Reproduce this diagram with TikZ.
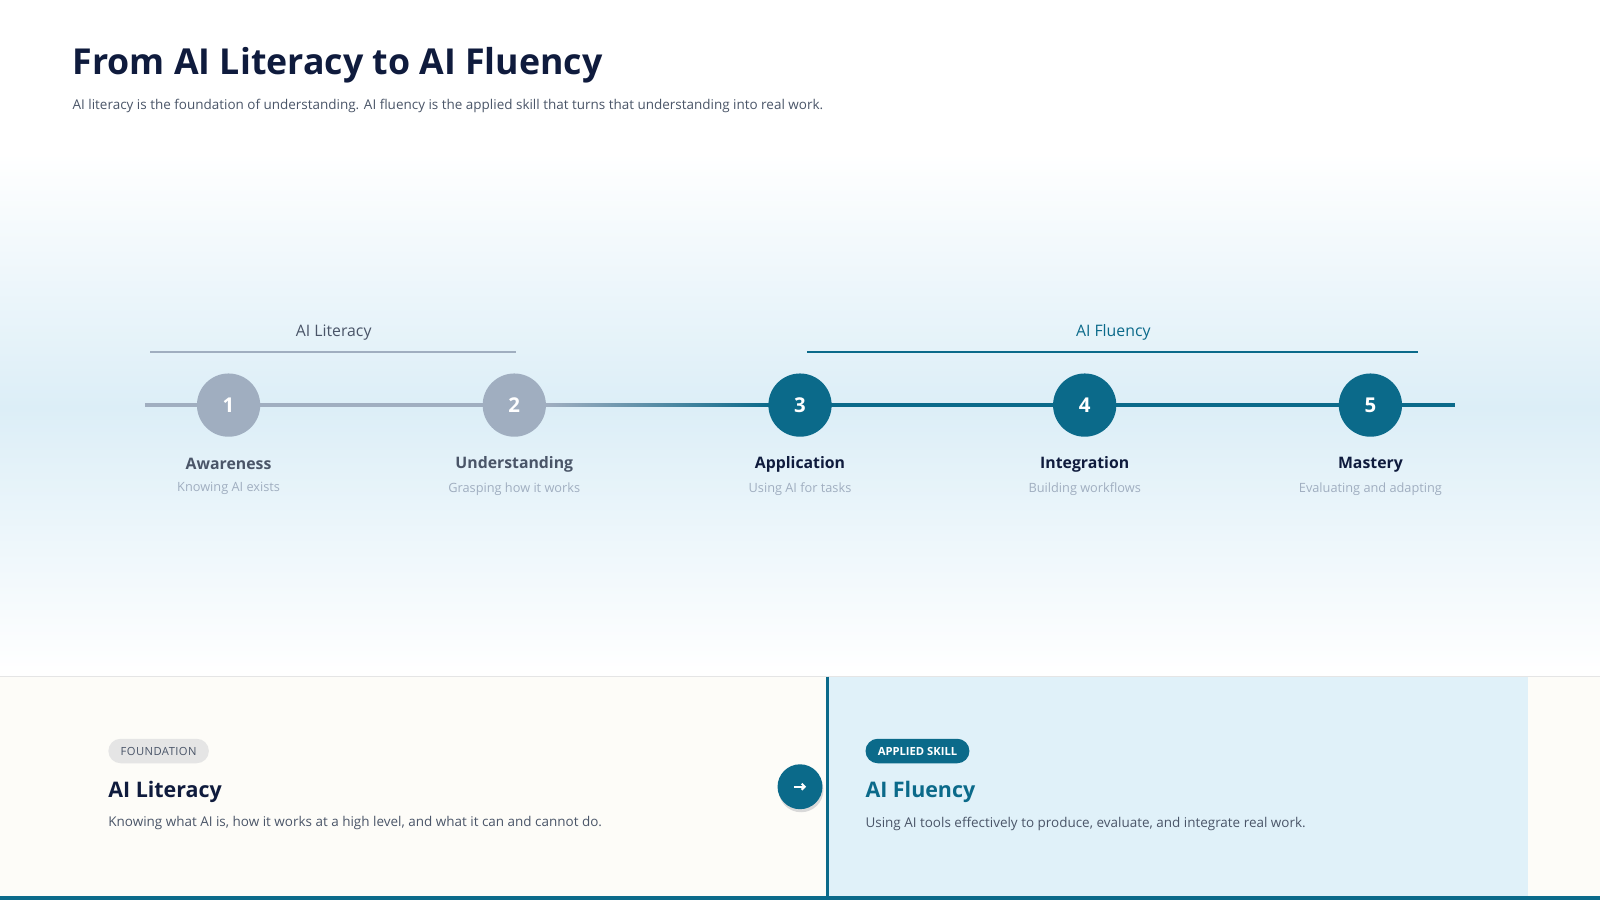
\documentclass[tikz,border=0pt]{standalone}
\usepackage{fontspec}
\setmainfont{Open Sans}
\usetikzlibrary{shadings,arrows.meta}
\definecolor{navy}{HTML}{0F1B3D}
\definecolor{teal}{HTML}{0B6A8A}
\definecolor{gry}{HTML}{A0AEC0}
\definecolor{band}{HTML}{DCEEF7}
\definecolor{cream}{HTML}{FDFCF8}
\definecolor{lblue}{HTML}{E0F1F9}
\definecolor{txt}{HTML}{4A5568}
\definecolor{sub}{HTML}{A0AEC0}
\begin{document}
\begin{tikzpicture}[x=1pt,y=-1pt,
  stepdot/.style={circle,minimum size=62pt,inner sep=0pt,text=white,font=\fontsize{20}{24}\selectfont\bfseries},
  steptitle/.style={font=\fontsize{15.5}{19}\selectfont\bfseries},
  stepsub/.style={font=\fontsize{12.5}{16}\selectfont,text=sub},
  pill/.style={rounded corners=12pt,minimum height=24pt,inner xsep=12pt,font=\fontsize{11}{14}\selectfont\addfontfeatures{LetterSpace=4}}]
\useasboundingbox (0,0) rectangle (1568,882);
\fill[white] (0,0) rectangle (1568,882);
\shade[top color=white,bottom color=band] (0,150) rectangle (1568,400);
\shade[top color=band,bottom color=white] (0,400) rectangle (1568,660);
\node[anchor=west,inner sep=0,text=navy,font=\fontsize{35}{42}\selectfont\bfseries] (title) at (71,64) {From AI Literacy to AI Fluency};
\node[anchor=west,text=txt,font=\fontsize{13.2}{17}\selectfont,inner sep=0] (subt) at (71,104) {AI literacy is the foundation of understanding. AI fluency is the applied skill that turns that understanding into real work.};
% brackets
\node[text=txt,font=\fontsize{15.5}{19}\selectfont] (litlab) at (327,326) {AI Literacy};
\draw[gry,line width=2.5pt] (147,345) -- (506,345);
\node[text=teal,font=\fontsize{15.5}{19}\selectfont] (flulab) at (1091,326) {AI Fluency};
\draw[teal,line width=2.5pt] (791,345) -- (1390,345);
% line
\coordinate (ls) at (142,397); \coordinate (le) at (1426,397);
\draw[gry,line width=3.5pt] (ls) -- (536,397);
\shade[left color=gry,right color=teal] (536,395.25) rectangle (753,398.75);
\draw[teal,line width=3.5pt] (753,397) -- (le);
\foreach \x/\n/\c/\t/\s/\tc in {224/1/gry/Awareness/Knowing AI exists/txt,504/2/gry/Understanding/Grasping how it works/txt,784/3/teal/Application/Using AI for tasks/navy,1063/4/teal/Integration/Building workflows/navy,1343/5/teal/Mastery/Evaluating and adapting/navy}{
  \node[stepdot,fill=\c] (d\n) at (\x,397) {\n};
  \node[steptitle,text=\tc] (t\n) at (\x,455) {\t};
  \node[stepsub] (s\n) at (\x,479) {\s};
}
% bottom panels
\fill[cream] (0,663) rectangle (1568,882);
\fill[lblue] (811,663) rectangle (1497,882);
\draw[black!10,line width=1pt] (0,663) -- (1568,663);
\draw[teal,line width=2.5pt] (811,663) -- (811,882);
\fill[teal] (0,878) rectangle (1568,882);
\node[pill,fill=black!10,text=txt,anchor=west] (p1) at (106,736) {FOUNDATION};
\node[anchor=west,inner sep=0,text=navy,font=\fontsize{21}{26}\selectfont\bfseries] (h1) at (106,776) {AI Literacy};
\node[anchor=west,inner sep=0,text=txt,font=\fontsize{13.2}{17}\selectfont] (b1) at (106,807) {Knowing what AI is, how it works at a high level, and what it can and cannot do.};
\node[pill,fill=teal,text=white,anchor=west,font=\fontsize{11}{14}\selectfont\bfseries] (p2) at (848,736) {APPLIED SKILL};
\node[anchor=west,inner sep=0,text=teal,font=\fontsize{21}{26}\selectfont\bfseries] (h2) at (848,776) {AI Fluency};
\node[anchor=west,inner sep=0,text=txt,font=\fontsize{13.2}{17}\selectfont] (b2) at (848,807) {Using AI tools effectively to produce, evaluate, and integrate real work.};
\fill[black!15] (785,774) circle (22);
\node[circle,fill=teal,minimum size=44pt,inner sep=0] (arr) at (784,771) {};
\draw[white,line width=2pt,-{Straight Barb[length=3pt]}] ([xshift=-6pt]arr.center) -- ([xshift=6pt]arr.center);
\end{tikzpicture}
\end{document}
